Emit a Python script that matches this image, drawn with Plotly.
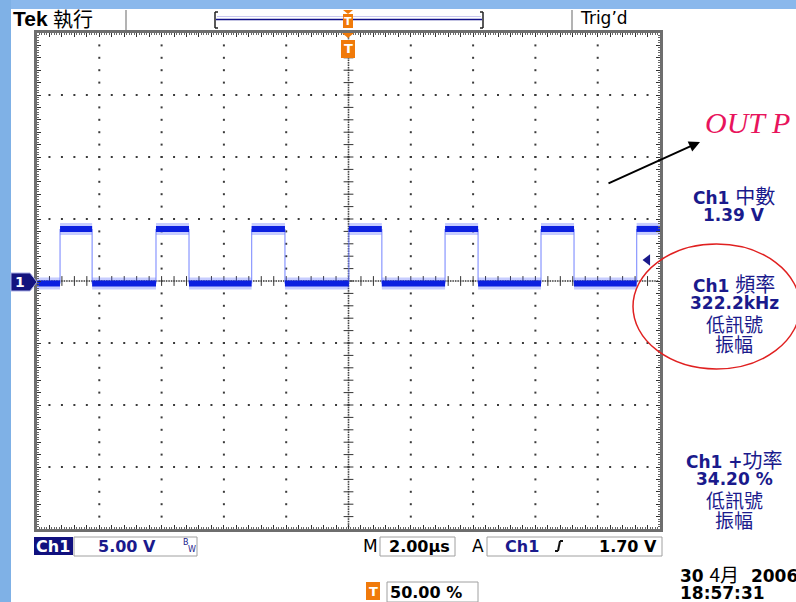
import plotly.graph_objects as go

# ---- measured waveform (Ch1, 5 V/div, 2 us/div) ----
rise_us = [-9.26, -6.18, -3.11, 0.01, 3.10, 6.18, 9.25]
fall_us = [-8.23, -5.12, -2.04, 1.07, 4.16, 7.24]
v_high = 4.2
v_low = -0.2
t_start, t_end = -10.0, 10.0
trig_level = 1.70
trig_marker_t = 9.6

# graticule
x_divs = [-8, -6, -4, -2, 2, 4, 6, 8]
y_divs = [-15, -10, -5, 5, 10, 15]

# readouts
readouts = [
    ("Ch1 ", "中數", "1.39 V", None),
    ("Ch1 ", "頻率", "322.2kHz", "低訊號|振幅"),
    ("Ch1 +", "功率", "34.20 %", "低訊號|振幅"),
]

# page geometry (pixels)
W, H = 796, 602
L, R, T, B = 37, 660, 33, 529


def px(x):
    return (x - L) / (R - L)


def py(y):
    return (B - y) / (B - T)


# ---- build the square wave from the edge times ----
edges = sorted([(t, v_high) for t in rise_us] + [(t, v_low) for t in fall_us])
level = v_low
flat_x, flat_y = [t_start], [level]
edge_x, edge_y = [], []
for t, new in edges:
    flat_x += [t, None, t]
    flat_y += [level, None, new]
    edge_x += [t, t, None]
    edge_y += [level, new, None]
    level = new
flat_x.append(t_end)
flat_y.append(level)

fig = go.Figure()

# graticule dots
gx, gy = [], []
n_x = int(round((t_end - t_start) / 0.4))
for yv in y_divs:
    for i in range(1, n_x):
        gx.append(t_start + i * 0.4)
        gy.append(yv)
for xv in x_divs:
    for j in range(1, 40):
        gx.append(xv)
        gy.append(-20 + j)
fig.add_trace(go.Scatter(x=gx, y=gy, mode="markers", hoverinfo="skip",
                         marker=dict(symbol="square", size=2, color="#3a3a3a",
                                     line=dict(width=0))))

# centre cross: fine dots plus tick marks
cx, cy = [], []
for i in range(1, 250):
    cx.append(t_start + i * 0.08)
    cy.append(0)
for j in range(1, 200):
    cx.append(0)
    cy.append(-20 + j * 0.2)
fig.add_trace(go.Scatter(x=cx, y=cy, mode="markers", hoverinfo="skip",
                         marker=dict(symbol="square", size=1.6, color="#444",
                                     line=dict(width=0))))
tx = [t_start + i * 0.4 for i in range(1, n_x)]
fig.add_trace(go.Scatter(x=tx, y=[0] * len(tx), mode="markers", hoverinfo="skip",
                         marker=dict(symbol="line-ns", size=7,
                                     line=dict(width=1, color="#333"))))
ty = [-20 + j for j in range(1, 40)]
fig.add_trace(go.Scatter(x=[0] * len(ty), y=ty, mode="markers", hoverinfo="skip",
                         marker=dict(symbol="line-ew", size=7,
                                     line=dict(width=1, color="#333"))))

# waveform: soft halo, thin transitions, dense flat levels
fig.add_trace(go.Scatter(x=flat_x, y=flat_y, mode="lines", hoverinfo="skip",
                         line=dict(color="rgba(70,90,255,0.30)", width=12)))
fig.add_trace(go.Scatter(x=edge_x, y=edge_y, mode="lines", hoverinfo="skip",
                         line=dict(color="rgba(110,125,255,0.75)", width=1.3)))
fig.add_trace(go.Scatter(x=flat_x, y=flat_y, mode="lines", hoverinfo="skip",
                         line=dict(color="#0b1fe0", width=6)))

# trigger level marker
fig.add_trace(go.Scatter(x=[trig_marker_t], y=[trig_level], mode="markers",
                         hoverinfo="skip",
                         marker=dict(symbol="triangle-left", size=10, color="#1a1a8c")))

axis_common = dict(showgrid=False, zeroline=False, showline=True,
                   linecolor="#6e6e6e", linewidth=3, mirror="allticks",
                   ticks="inside", ticklen=4, tickcolor="#333", tickwidth=1,
                   showticklabels=False, fixedrange=True)
fig.update_xaxes(range=[t_start, t_end], tick0=0, dtick=0.4,
                 minor=dict(ticks="inside", dtick=0.08, ticklen=2,
                            tickcolor="#666", tickwidth=1),
                 **axis_common)
fig.update_yaxes(range=[-20, 20], tick0=0, dtick=1,
                 minor=dict(ticks="inside", dtick=0.2, ticklen=2,
                            tickcolor="#666", tickwidth=1),
                 **axis_common)

shapes = []
annos = []

NAVY = "#1a1a8c"
ORANGE = "#f07a0a"
FONT = "DejaVu Sans, Noto Sans CJK TC"


def rect(x0, y0, x1, y1, fill=None, line=None, lw=1):
    shapes.append(dict(type="rect", xref="paper", yref="paper",
                       x0=px(x0), x1=px(x1), y0=py(y1), y1=py(y0),
                       fillcolor=fill or "rgba(0,0,0,0)",
                       line=dict(color=line or "rgba(0,0,0,0)", width=lw if line else 0),
                       layer="above"))


def seg(x0, y0, x1, y1, color, lw=1):
    shapes.append(dict(type="line", xref="paper", yref="paper",
                       x0=px(x0), x1=px(x1), y0=py(y0), y1=py(y1),
                       line=dict(color=color, width=lw), layer="above"))


def poly(pts, fill, line=None, lw=0):
    path = "M " + " L ".join(f"{px(a):.5f},{py(b):.5f}" for a, b in pts) + " Z"
    shapes.append(dict(type="path", xref="paper", yref="paper", path=path,
                       fillcolor=fill,
                       line=dict(color=line or "rgba(0,0,0,0)", width=lw),
                       layer="above"))


def note(x, y, text, size=17, color="black", xanchor="center", family=FONT,
         yanchor="middle"):
    annos.append(dict(x=px(x), y=py(y), xref="paper", yref="paper", text=text,
                      showarrow=False, xanchor=xanchor, yanchor=yanchor,
                      align="center",
                      font=dict(family=family, size=size, color=color)))


def cjk(s, size=20):
    return (f"<span style=\"font-family:Noto Sans CJK TC;font-weight:normal;"
            f"font-size:{size}px\">{s}</span>")


# window chrome strips
rect(0, 0, 11, H, fill="#7fb1e6")
rect(11, 0, W, 9, fill="#8ab8ec")

# header
note(11, 19, "<b>Tek</b>", size=21, family="Liberation Sans", xanchor="left")
note(51, 19, "執行", size=20, family="Noto Sans CJK TC", xanchor="left")
seg(126, 10, 126, 30, "#9a9a9a", 1.5)
seg(572, 10, 572, 30, "#9a9a9a", 1.5)
note(578, 18, "Trig’d", size=17, xanchor="left", family="DejaVu Sans")

# record-length bar with brackets
seg(217, 16.5, 481, 16.5, "#c9c9f0", 1)
seg(216, 19.5, 482, 19.5, "#12128a", 1.6)
for xb, d in ((215, 3), (483, -3)):
    seg(xb, 12, xb, 28, "#222", 1.5)
    seg(xb, 12, xb + d, 12, "#222", 1.5)
    seg(xb, 28, xb + d, 28, "#222", 1.5)

# trigger position markers
poly([(343, 10), (353, 10), (348, 14)], ORANGE)
rect(343, 14, 353, 28, fill=ORANGE)
note(348, 21, "<b>T</b>", size=11, color="white", family="DejaVu Sans")
poly([(342, 33), (354, 33), (348, 38)], ORANGE)
rect(341, 40, 355, 58, fill=ORANGE)
note(348, 49, "<b>T</b>", size=13, color="white", family="DejaVu Sans")

# channel ground marker
poly([(11, 273), (30, 273), (37, 282), (30, 291), (11, 291)], "#14147e",
     line="#aab0e8", lw=1)
note(20, 282, "<b>1</b>", size=14, color="white", family="DejaVu Sans")

# right-hand readouts
note(703, 122, "<i>OUT P</i>", size=30, color="#e8145c",
     family="Liberation Serif", xanchor="left")
annos.append(dict(x=px(700), y=py(142), xref="paper", yref="paper", text="",
                  showarrow=True, ax=-93, ay=42, arrowhead=2, arrowsize=1.1,
                  arrowwidth=2, arrowcolor="black"))

blocks_y = [195, 283, 459]
line_offsets = [0, 20, 40, 60]
for (lead, name, value, extra), y0 in zip(readouts, blocks_y):
    note(734, y0 + line_offsets[0], f"<b>{lead}</b>{cjk(name)}", size=17,
         color=NAVY)
    note(734, y0 + line_offsets[1], f"<b>{value}</b>", size=17, color=NAVY)
    if extra:
        for k, s in enumerate(extra.split("|")):
            note(734, y0 + line_offsets[2 + k], s, size=19,
                 family="Noto Sans CJK TC", color=NAVY)

shapes.append(dict(type="circle", xref="paper", yref="paper",
                   x0=px(633), x1=px(800), y0=py(369), y1=py(244),
                   line=dict(color="#e02020", width=1.5), layer="above"))

# bottom status line
rect(34, 537, 73, 555, fill="#10107e")
note(53, 546, "<b>Ch1</b>", size=16, color="white", family="DejaVu Sans")
rect(74, 537, 197, 556, line="#a0a0a0", lw=1)
note(127, 546, "<b>5.00 V</b>", size=16, color=NAVY, family="DejaVu Sans")
note(186, 542, "B", size=8, color=NAVY, family="DejaVu Sans")
note(192, 549, "W", size=8, color=NAVY, family="DejaVu Sans")
note(370, 546, "M", size=17, family="DejaVu Sans")
rect(380, 537, 455, 556, line="#a0a0a0", lw=1)
note(419, 546, "<b>2.00µs</b>", size=16, family="DejaVu Sans")
note(478, 546, "A", size=17, family="DejaVu Sans")
rect(487, 537, 662, 556, line="#a0a0a0", lw=1)
note(522, 546, "<b>Ch1</b>", size=16, color=NAVY, family="DejaVu Sans")
seg(555, 551, 558, 551, "#111", 2)
seg(558, 551, 560, 541, "#111", 2)
seg(560, 541, 563, 541, "#111", 2)
note(628, 546, "<b>1.70 V</b>", size=16, family="DejaVu Sans")

rect(366, 582, 380, 600, fill=ORANGE)
note(373, 591, "<b>T</b>", size=13, color="white", family="DejaVu Sans")
rect(387, 582, 478, 602, line="#a0a0a0", lw=1)
note(426, 592, "<b>50.00 %</b>", size=16, family="DejaVu Sans")

note(678, 573, f"<b>30 </b>{cjk('4月', 19)}<b>  2006</b>", size=17,
     xanchor="left")
note(678, 593, "<b>18:57:31</b>", size=17, xanchor="left", family="DejaVu Sans")

fig.update_layout(width=W, height=H, margin=dict(l=L, r=W - R, t=T, b=H - B),
                  paper_bgcolor="white", plot_bgcolor="white",
                  showlegend=False, shapes=shapes, annotations=annos)

fig.write_html("out.html", config={"displayModeBar": False})
